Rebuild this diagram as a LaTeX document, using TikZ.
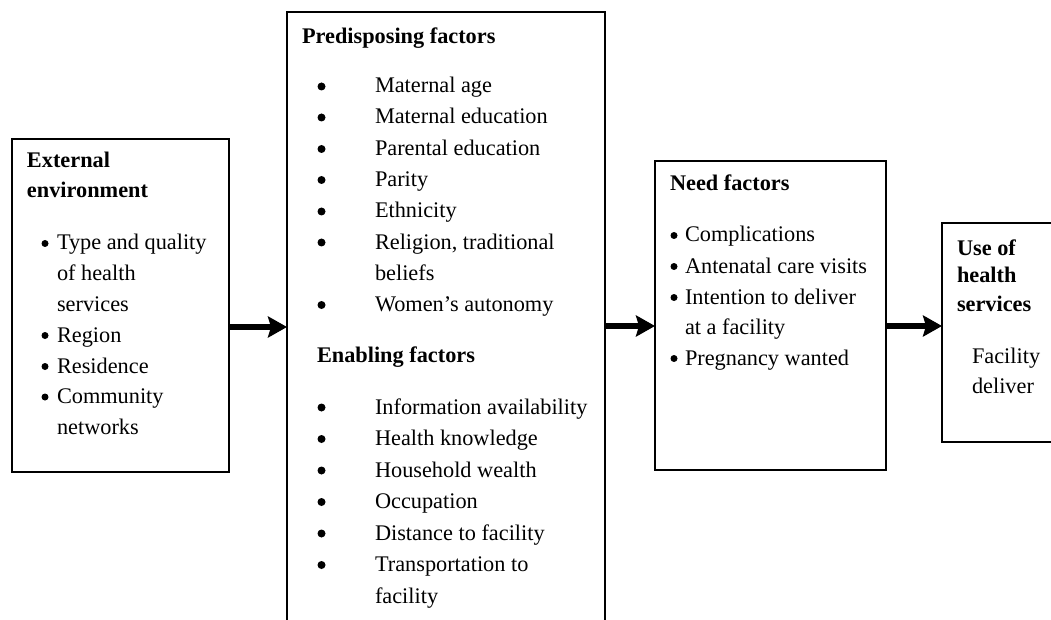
\documentclass[tikz,border=0pt]{standalone}
\usepackage{fontspec}
\setmainfont{Liberation Serif}
\usetikzlibrary{arrows.meta, positioning}

\begin{document}
\begin{tikzpicture}[
    x=1pt, y=-1pt,
    every node/.style={font=\fontsize{22.3}{27}\selectfont, inner sep=0pt, outer sep=0pt},
    box/.style={rectangle, draw, line width=1.5pt, anchor=north west},
    head/.style={anchor=base west, font=\fontsize{22.3}{27}\selectfont\bfseries},
    item/.style={anchor=base west},
    dot/.style={circle, fill, minimum size=7pt},
    arrow/.style={-{Stealth[length=19pt, width=21pt, inset=3pt]}, line width=5.5pt}
]
    \useasboundingbox (0,0) rectangle (1051,620);
    \fill[white] (0,0) rectangle (1051,620);

    % Boxes
    \node[box, minimum width=217pt, minimum height=333pt] (ext) at (12,139) {};
    \node[box, minimum width=318pt, minimum height=620pt] (pre) at (287,12) {};
    \node[box, minimum width=231pt, minimum height=309pt] (need) at (655,161) {};
    \node[box, minimum width=140pt, minimum height=219pt] (use) at (942,223) {};

    % Arrows
    \draw[arrow] (ext.east |- 0,327) -- (pre.west |- 0,327);
    \draw[arrow] (pre.east |- 0,326) -- (need.west |- 0,326);
    \draw[arrow] (need.east |- 0,326) -- (use.west |- 0,326);

    % External environment
    \node[head] (exth1) at (27,168) {External};
    \node[head] (exth2) at (27,198) {environment};
    \foreach \y/\t [count=\i] in {250/Type and quality, 280.5/of health, 311/services,
        342/Region, 373/Residence, 403.5/Community, 434/networks}
        \node[item] (exti\i) at (57,\y) {\t};
    \foreach \y [count=\i] in {250, 342, 373, 403.5}
        \node[dot] (extd\i) at (45,\y-6.5) {};

    % Predisposing factors
    \node[head] (preh) at (302,44) {Predisposing factors};
    \foreach \y/\t [count=\i] in {93/Maternal age, 124/Maternal education,
        155.5/Parental education, 186.5/Parity, 218/Ethnicity,
        249/{Religion, traditional}, 280/beliefs, 311.5/Women’s autonomy}
        \node[item] (prei\i) at (375,\y) {\t};
    \foreach \y [count=\i] in {93, 124, 155.5, 186.5, 218, 249, 311.5}
        \node[dot, minimum size=8pt] (pred\i) at (321.5,\y-6.5) {};

    % Enabling factors
    \node[head] (enah) at (317,362) {Enabling factors};
    \foreach \y/\t [count=\i] in {414/Information availability, 445.5/Health knowledge,
        477/Household wealth, 508.5/Occupation, 540/Distance to facility,
        571.5/Transportation to, 603/facility}
        \node[item] (enai\i) at (375,\y) {\t};
    \foreach \y [count=\i] in {414, 445.5, 477, 508.5, 540, 571.5}
        \node[dot, minimum size=8pt] (enad\i) at (321.5,\y-6.5) {};

    % Need factors
    \node[head] (needh) at (670,191) {Need factors};
    \foreach \y/\t [count=\i] in {242/Complications, 273/Antenatal care visits,
        304/Intention to deliver, 334/at a facility, 365/Pregnancy wanted}
        \node[item] (needi\i) at (685,\y) {\t};
    \foreach \y [count=\i] in {242, 273, 304, 365}
        \node[dot] (needd\i) at (674,\y-6.5) {};

    % Use of health services
    \node[head] (useh1) at (957,255) {Use of};
    \node[head] (useh2) at (957,282) {health};
    \node[head] (useh3) at (957,311) {services};
    \node[item] (usei1) at (972,363) {Facility};
    \node[item] (usei2) at (972,393) {deliver};
\end{tikzpicture}
\end{document}
